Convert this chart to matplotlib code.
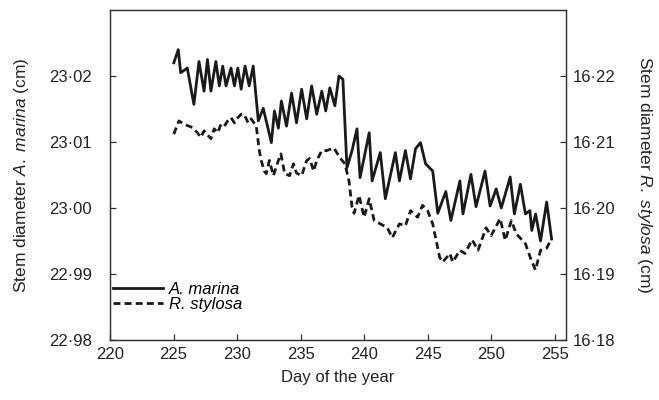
import matplotlib
matplotlib.use("Agg")
import matplotlib.pyplot as plt
from matplotlib.ticker import FuncFormatter, FixedLocator

plt.rcParams['font.family'] = ['Liberation Sans', 'DejaVu Sans']
plt.rcParams['mathtext.fontset'] = 'custom'
plt.rcParams['mathtext.rm'] = 'Liberation Sans'
plt.rcParams['mathtext.it'] = 'Liberation Sans:italic'

# Stem diameter of Avicennia marina (left axis, cm)
marina_day = [225.02, 225.37, 225.56, 226.08, 226.60, 227.00, 227.40, 227.67, 227.94,
              228.33, 228.60, 228.87, 229.13, 229.52, 229.79, 230.06, 230.32, 230.63,
              230.95, 231.27, 231.67, 232.06, 232.70, 232.94, 233.25, 233.49, 233.89,
              234.29, 234.68, 235.08, 235.48, 235.87, 236.27, 236.67, 236.98, 237.30,
              237.70, 238.02, 238.33, 238.65, 239.05, 239.44, 239.68, 240.40, 240.63,
              241.27, 241.67, 242.46, 242.78, 243.25, 243.65, 244.05, 244.44, 244.84,
              245.40, 245.80, 246.43, 246.83, 247.54, 247.78, 248.41, 248.81, 249.52,
              249.92, 250.40, 250.80, 251.50, 251.83, 252.30, 252.70, 253.05, 253.20,
              253.50, 253.89, 254.37, 254.76]
marina_cm = [23.0220, 23.0240, 23.0205, 23.0212, 23.0157, 23.0222, 23.0177, 23.0225, 23.0177,
             23.0222, 23.0185, 23.0215, 23.0185, 23.0212, 23.0185, 23.0212, 23.0180, 23.0215,
             23.0185, 23.0215, 23.0132, 23.0151, 23.0099, 23.0147, 23.0121, 23.0162, 23.0124,
             23.0174, 23.0129, 23.0180, 23.0135, 23.0185, 23.0142, 23.0177, 23.0147, 23.0182,
             23.0155, 23.0200, 23.0195, 23.0061, 23.0087, 23.0120, 23.0046, 23.0114, 23.0041,
             23.0084, 23.0014, 23.0084, 23.0041, 23.0087, 23.0044, 23.0090, 23.0099, 23.0067,
             23.0056, 22.9992, 23.0025, 22.9981, 23.0041, 22.9991, 23.0051, 23.0002, 23.0056,
             23.0003, 23.0029, 23.0000, 23.0047, 22.9991, 23.0036, 22.9991, 22.9996, 22.9966,
             22.9991, 22.9950, 23.0009, 22.9953]

# Stem diameter of Rhizophora stylosa (right axis, cm)
stylosa_day = [225.02, 225.42, 225.82, 226.48, 226.88, 227.14, 227.40, 227.94, 228.20,
               228.47, 228.73, 228.99, 229.26, 229.52, 229.79, 230.06, 230.32, 230.56,
               230.87, 231.11, 231.51, 231.75, 231.90, 232.14, 232.30, 232.54, 232.86,
               233.25, 233.45, 233.75, 234.13, 234.44, 234.68, 235.08, 235.48, 235.71,
               236.03, 236.27, 236.67, 237.06, 237.62, 238.10, 238.49, 238.81, 239.05,
               239.21, 239.60, 240.00, 240.40, 240.79, 241.27, 241.83, 242.22, 242.78,
               243.25, 243.65, 244.21, 244.60, 245.00, 245.40, 245.63, 245.95, 246.19,
               246.75, 246.98, 247.54, 247.94, 248.50, 248.97, 249.60, 250.00, 250.71,
               251.11, 251.59, 251.98, 252.70, 253.10, 253.49, 253.89, 254.37, 254.76]
stylosa_cm = [16.2112, 16.2132, 16.2127, 16.2122, 16.2114, 16.2107, 16.2117, 16.2105, 16.2120,
              16.2114, 16.2127, 16.2124, 16.2132, 16.2137, 16.2129, 16.2137, 16.2142, 16.2142,
              16.2129, 16.2135, 16.2124, 16.2087, 16.2072, 16.2056, 16.2052, 16.2072, 16.2049,
              16.2072, 16.2082, 16.2052, 16.2049, 16.2067, 16.2053, 16.2049, 16.2072, 16.2075,
              16.2056, 16.2072, 16.2087, 16.2087, 16.2091, 16.2076, 16.2067, 16.2041, 16.2001,
              16.1992, 16.2019, 16.1986, 16.2014, 16.1981, 16.1976, 16.1970, 16.1955, 16.1976,
              16.1973, 16.1996, 16.1986, 16.2004, 16.1996, 16.1976, 16.1955, 16.1925, 16.1918,
              16.1931, 16.1918, 16.1936, 16.1931, 16.1952, 16.1936, 16.1970, 16.1958, 16.1984,
              16.1951, 16.1981, 16.1961, 16.1946, 16.1924, 16.1906, 16.1936, 16.1939, 16.1954]

x_ticks = [220, 225, 230, 235, 240, 245, 250, 255]
left_ticks = [22.98, 22.99, 23.00, 23.01, 23.02]
right_ticks = [16.18, 16.19, 16.20, 16.21, 16.22]

ink = '#1a1a1a'
axis_c = '#333333'
fs = 12

fig = plt.figure(figsize=(6.59, 4.0), dpi=100)
ax = fig.add_axes([0.167, 0.15, 0.692, 0.825])
ax2 = ax.twinx()

l1, = ax.plot(marina_day, marina_cm, color=ink, lw=2.0, solid_joinstyle='round')
l2, = ax2.plot(stylosa_day, stylosa_cm, color=ink, lw=2.0,
               linestyle=(0, (2.5, 1.5)), dash_capstyle='butt')

ax.set_xlim(220, 255.9)
ax.set_ylim(22.98, 23.03)
ax2.set_ylim(16.18, 16.23)

dot_fmt = FuncFormatter(lambda v, p: f"{v:.2f}".replace('.', '\u00b7'))
ax.xaxis.set_major_locator(FixedLocator(x_ticks))
ax.yaxis.set_major_locator(FixedLocator(left_ticks))
ax2.yaxis.set_major_locator(FixedLocator(right_ticks))
ax.yaxis.set_major_formatter(dot_fmt)
ax2.yaxis.set_major_formatter(dot_fmt)

for a in (ax, ax2):
    for s in a.spines.values():
        s.set_color(axis_c)
        s.set_linewidth(0.9)
    a.tick_params(direction='in', length=4.5, width=0.9, color=axis_c,
                  labelsize=fs, labelcolor='#222222', pad=5)
ax.tick_params(axis='x', pad=5)
ax.tick_params(axis='y', pad=13)

ax.set_xlabel("Day of the year", fontsize=fs, color='#222222', labelpad=6)
ax.set_ylabel(r"Stem diameter $\it{A.\ marina}$ (cm)", fontsize=12.5, color='#222222', labelpad=13)
ax2.set_ylabel(r"Stem diameter $\it{R.\ stylosa}$ (cm)", fontsize=12.5, color='#222222',
               rotation=-90, va='bottom', labelpad=14)

leg = ax.legend([l1, l2], ["A. marina", "R. stylosa"], loc='lower left',
                bbox_to_anchor=(-0.02, 0.05), frameon=False, handlelength=3.0,
                handletextpad=0.4, labelspacing=0.0, borderaxespad=0.3,
                prop={'size': fs, 'style': 'italic'})

fig.savefig("out.png", dpi=100)
